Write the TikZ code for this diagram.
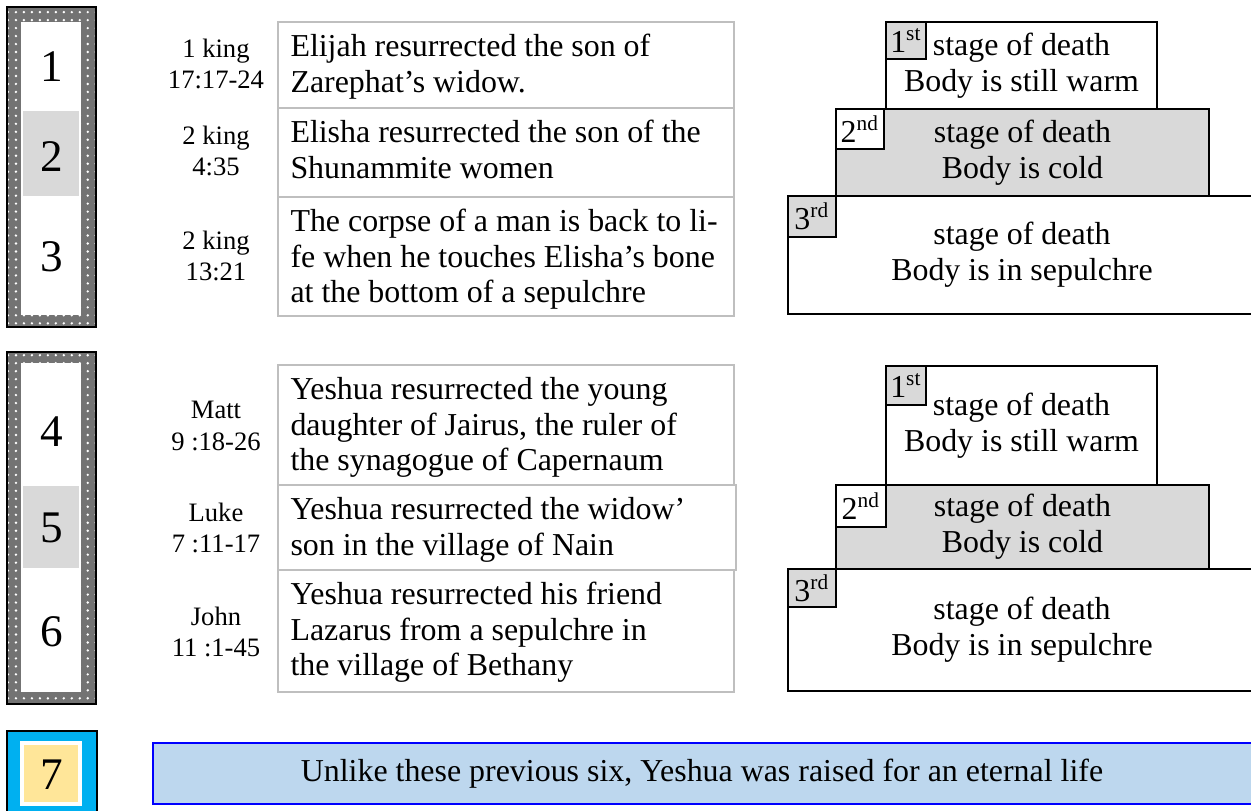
\documentclass[tikz,border=0pt]{standalone}
\usepackage{fontspec}
\setmainfont{Liberation Serif}
\usetikzlibrary{patterns}
\definecolor{cellgray}{HTML}{D9D9D9}
\definecolor{boxline}{HTML}{BFBFBF}
\definecolor{skyblue}{HTML}{00B0F0}
\definecolor{sand}{HTML}{FFE699}
\definecolor{paleblue}{HTML}{BDD7EE}
\begin{document}
\begin{tikzpicture}[
		x=0.376pt, y=-0.376pt,
		frame/.style={fill=black!55, postaction={pattern=dots, pattern color=white}},
		num/.style={font=\fontsize{17}{20}\selectfont},
		ref/.style={align=center, font=\fontsize{10}{11.7}\selectfont},
		tbox/.style={draw=boxline, line width=0.5pt},
		txt/.style={anchor=north west, align=left, inner xsep=4.5pt, inner ysep=4.4pt, font=\fontsize{12}{13.4}\selectfont},
		stage/.style={draw=black, line width=0.6pt},
		stagetxt/.style={align=center, font=\fontsize{12}{13.4}\selectfont},
		ord/.style={font=\fontsize{12}{13.2}\selectfont, inner sep=0pt}
	]
	\useasboundingbox (0,0) rectangle (1251,810);
	% numbered frames
	\path[frame] (7,7) rectangle (96,327);
	\draw[line width=0.8pt] (7,7) rectangle (96,327);
	\fill[white] (21,22) rectangle (81,315);
	\fill[cellgray] (23,111) rectangle (79,196);
	\node[num] (n1) at (52,67) {1};
	\node[num] (n2) at (52,157) {2};
	\node[num] (n3) at (52,257) {3};
	\path[frame] (7,352) rectangle (96,704);
	\draw[line width=0.8pt] (7,352) rectangle (96,704);
	\fill[white] (21,363) rectangle (81,692);
	\fill[cellgray] (23,486) rectangle (79,568);
	\node[num] (n4) at (52,432) {4};
	\node[num] (n5) at (52,528) {5};
	\node[num] (n6) at (52,632) {6};
	% old testament
	\draw[tbox] (278,22) rectangle (734,108);
	\draw[tbox] (278,108) rectangle (734,197);
	\draw[tbox] (278,197) rectangle (734,316);
	\node[ref] (r1) at (216,64) {1 king\\17:17-24};
	\node[ref] (r2) at (216,151) {2 king\\4:35};
	\node[ref] (r3) at (216,256) {2 king\\13:21};
	\node[txt] (t1) at (278,22) {Elijah resurrected the son of\\Zarephat’s widow.};
	\node[txt] (t2) at (278,108) {Elisha resurrected the son of the\\Shunammite women};
	\node[txt] (t3) at (278,197) {The corpse of a man is back to li-\\fe when he touches Elisha’s bone\\at the bottom of a sepulchre};
	% new testament
	\draw[tbox] (278,365) rectangle (734,485);
	\draw[tbox] (278,485) rectangle (736,570);
	\draw[tbox] (278,570) rectangle (734,692);
	\node[ref] (r4) at (216,426) {Matt\\9 :18-26};
	\node[ref] (r5) at (216,528) {Luke\\7 :11-17};
	\node[ref] (r6) at (216,632) {John\\11 :1-45};
	\node[txt] (t4) at (278,365) {Yeshua resurrected the young\\daughter of Jairus, the ruler of\\the synagogue of Capernaum};
	\node[txt] (t5) at (278,485) {Yeshua resurrected the widow’\\son in the village of Nain};
	\node[txt] (t6) at (278,570) {Yeshua resurrected his friend\\Lazarus from a sepulchre in\\the village of Bethany};
	% stages of death, top
	\draw[stage, fill=white] (788,196) rectangle (1256,314) node[midway, stagetxt] (s3) {stage of death\\Body is in sepulchre};
	\draw[stage, fill=cellgray] (836,109) rectangle (1209,196) node[midway, stagetxt] (s2) {stage of death\\Body is cold};
	\draw[stage, fill=white] (886,22) rectangle (1157,109) node[midway, stagetxt] (s1) {stage of death\\Body is still warm};
	\draw[stage, fill=cellgray] (886,22) rectangle (926,59) node[midway, ord] (o1) {1\textsuperscript{st}};
	\draw[stage, fill=white] (836,109) rectangle (884,149) node[midway, ord] (o2) {2\textsuperscript{nd}};
	\draw[stage, fill=cellgray] (788,196) rectangle (836,237) node[midway, ord] (o3) {3\textsuperscript{rd}};
	% stages of death, bottom
	\draw[stage, fill=white] (788,569) rectangle (1256,691) node[midway, stagetxt] (s6) {stage of death\\Body is in sepulchre};
	\draw[stage, fill=cellgray] (836,485) rectangle (1209,569) node[midway, stagetxt] (s5) {stage of death\\Body is cold};
	\draw[stage, fill=white] (886,366) rectangle (1157,485) node[midway, stagetxt] (s4) {stage of death\\Body is still warm};
	\draw[stage, fill=cellgray] (886,366) rectangle (926,405) node[midway, ord] (o4) {1\textsuperscript{st}};
	\draw[stage, fill=white] (836,485) rectangle (886,527) node[midway, ord] (o5) {2\textsuperscript{nd}};
	\draw[stage, fill=cellgray] (788,569) rectangle (836,607) node[midway, ord] (o6) {3\textsuperscript{rd}};
	% seventh
	\draw[fill=skyblue, line width=0.8pt] (7,731) rectangle (97,816);
	\fill[white] (20,741) rectangle (82,806);
	\fill[sand] (24,745) rectangle (78,802);
	\node[num] (n7) at (52,775) {7};
	\draw[draw=blue, fill=paleblue, line width=0.8pt] (153,743) rectangle (1256,804);
	\node[font=\fontsize{12}{13.2}\selectfont] (last) at (702,774) {Unlike these previous six, Yeshua was raised for an eternal life};
\end{tikzpicture}
\end{document}
